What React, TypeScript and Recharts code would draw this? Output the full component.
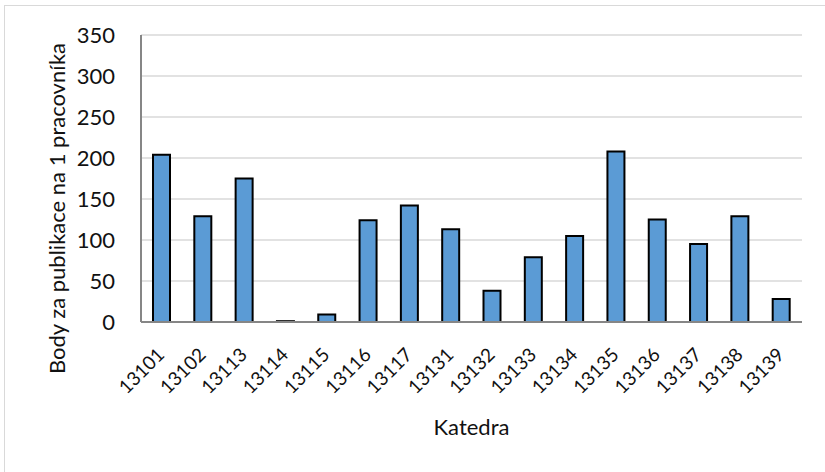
import { BarChart, Bar, XAxis, YAxis, CartesianGrid, Label } from 'recharts';

const katedry = [
  '13101', '13102', '13113', '13114', '13115', '13116', '13117', '13131',
  '13132', '13133', '13134', '13135', '13136', '13137', '13138', '13139'
];
const body = [204, 129, 175, 1, 9, 124, 142, 113, 38, 79, 105, 208, 125, 95, 129, 28];
const yTicks = [0, 50, 100, 150, 200, 250, 300, 350];

const data = katedry.map((k, i) => ({ name: k, body: body[i] }));

const font = 'Lato, "Open Sans", sans-serif';
const textColor = '#111';

function XTick(props: any) {
  const { x, y, payload } = props;
  return (
    <g transform={`translate(${x + 4},${y + 34}) rotate(-45)`}>
      <text textAnchor="end" fontSize={19} fill={textColor} fontFamily={font}>
        {payload.value}
      </text>
    </g>
  );
}

function YTitle(props: any) {
  const { viewBox } = props;
  const cx = viewBox.x + 16;
  const cy = viewBox.y + viewBox.height / 2 + 30;
  return (
    <text
      transform={`translate(${cx},${cy}) rotate(-90)`}
      textAnchor="middle"
      dominantBaseline="central"
      fontSize={22}
      fill={textColor}
      fontFamily={font}
    >
      Body za publikace na 1 pracovníka
    </text>
  );
}

export default function App() {
  return (
    <div style={{ position: 'absolute', left: 0, top: 0, width: 825, height: 472, overflow: 'hidden', background: '#fff' }}>
      <div style={{ position: 'absolute', left: 4, top: 5, width: 840, height: 490, border: '1px solid #D9D9D9' }} />
      <div style={{ position: 'absolute', left: 0, top: 0 }}>
        <BarChart
          width={825}
          height={472}
          data={data}
          margin={{ top: 35, right: 23, bottom: 0, left: 40 }}
          barSize={17}
        >
          <CartesianGrid vertical={false} stroke="#D9D9D9" strokeWidth={1.5} />
          <XAxis
            dataKey="name"
            interval={0}
            height={150}
            tickLine={false}
            tickSize={0}
            tickMargin={0}
            axisLine={{ stroke: '#868686', strokeWidth: 2 }}
            tick={<XTick />}
          >
            <Label value="Katedra" position="insideTop" offset={97} fontSize={22} fill={textColor} fontFamily={font} />
          </XAxis>
          <YAxis
            width={101}
            domain={[0, 350]}
            ticks={yTicks}
            interval={0}
            tickLine={false}
            tickSize={0}
            tickMargin={26}
            axisLine={{ stroke: '#868686', strokeWidth: 2 }}
            tick={{ fill: textColor, fontSize: 22, fontFamily: font }}
          >
            <Label content={<YTitle />} />
          </YAxis>
          <Bar dataKey="body" fill="#5B9BD5" stroke="#000" strokeWidth={2} isAnimationActive={false} />
        </BarChart>
      </div>
    </div>
  );
}
